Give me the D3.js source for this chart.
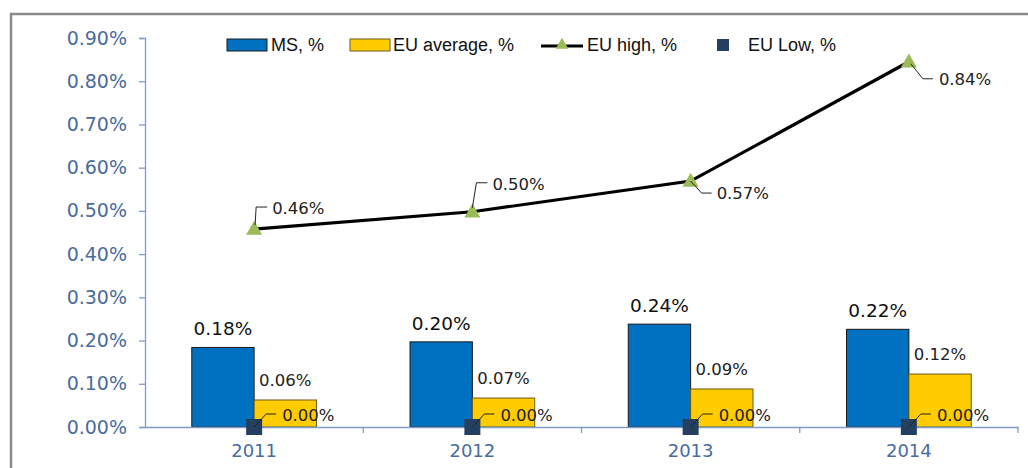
<!DOCTYPE html>
<html><head><meta charset="utf-8">
<script src="https://cdn.jsdelivr.net/npm/d3@7"></script>
<style>body{margin:0;background:#fff}svg{display:block}</style>
</head><body>
<svg id="c" width="1028" height="468"></svg>
<script>
const years = ["2011","2012","2013","2014"];
const msValues = [0.184, 0.197, 0.238, 0.226];
const euAvgValues = [0.0625, 0.067, 0.088, 0.1225];
const euHighValues = [0.458, 0.498, 0.569, 0.845];
const euLowValues = [0, 0, 0, 0];
const msLabels = ["0.18%","0.20%","0.24%","0.22%"];
const euAvgLabels = ["0.06%","0.07%","0.09%","0.12%"];
const euHighLabels = ["0.46%","0.50%","0.57%","0.84%"];
const euLowLabels = ["0.00%","0.00%","0.00%","0.00%"];
const yTicks = [0,0.1,0.2,0.3,0.4,0.5,0.6,0.7,0.8,0.9];
const legendNames = ["MS, %","EU average, %","EU high, %","EU Low, %"];

// leader placement (styling)
const highLeaders = [
  {p:[[1,-4],[2,-22],[13,-22]], t:[18,-21]},
  {p:[[0,-4],[4,-29],[15,-29]], t:[20,-28]},
  {p:[[0,0],[11,12],[21,12]], t:[26,12]},
  {p:[[2,2],[14,17],[24,17]], t:[30,17]}
];
const lowLeader = {p:[[0,0],[12,-13],[22,-13]], t:[28,-12]};

const svg = d3.select("#c");
const axisColor = "#7f9cc8";
const labelColor = "#4a6b9d";

// outer frame
svg.append("rect").attr("x",11).attr("y",14).attr("width",1040).attr("height",480)
  .attr("fill","none").attr("stroke","#8a8a8a").attr("stroke-width",2.5);

const x = d3.scaleBand().domain(years).range([145,1018]).padding(0);
const y = d3.scaleLinear().domain([0,0.9]).range([427,38]);
const bw = x.bandwidth()/3.5;
const cx = d => x(d) + x.bandwidth()/2;

// y axis
const yAxis = svg.append("g").attr("transform","translate(145,0)")
  .call(d3.axisLeft(y).tickValues(yTicks).tickSize(6).tickPadding(12).tickFormat(d => d.toFixed(2)+"%"));
yAxis.select(".domain").attr("stroke",axisColor).attr("stroke-width",1.3);
yAxis.selectAll(".tick line").attr("stroke",axisColor).attr("stroke-width",1.3);
yAxis.selectAll(".tick text").attr("fill",labelColor).attr("font-family","DejaVu Sans").attr("font-size",19);

// bars
svg.selectAll(".ms").data(years).join("rect")
  .attr("x", d => cx(d) - bw).attr("width", bw)
  .attr("y", (d,i) => y(msValues[i])).attr("height",(d,i) => y(0)-y(msValues[i]))
  .attr("fill","#0070c0").attr("stroke","#1a1a1a").attr("stroke-width",1);
svg.selectAll(".avg").data(years).join("rect")
  .attr("x", d => cx(d)).attr("width", bw)
  .attr("y", (d,i) => y(euAvgValues[i])).attr("height",(d,i) => y(0)-y(euAvgValues[i]))
  .attr("fill","#ffcc00").attr("stroke","#6b5a20").attr("stroke-width",1);

// x axis
const xAxis = svg.append("g").attr("transform","translate(0,427)")
  .call(d3.axisBottom(x).tickSize(0).tickPadding(17));
xAxis.select(".domain").attr("stroke",axisColor).attr("stroke-width",1.3);
xAxis.selectAll(".tick text").attr("fill",labelColor).attr("font-family","DejaVu Sans").attr("font-size",18);
svg.selectAll(".xt").data(years).join("line")
  .attr("x1",d=> x(d) + x.bandwidth()).attr("x2",d=> x(d) + x.bandwidth())
  .attr("y1",427).attr("y2",433).attr("stroke",axisColor).attr("stroke-width",1.3);

// bar labels
svg.selectAll(".msl").data(years).join("text")
  .attr("x", d => cx(d) - bw/2).attr("y",(d,i)=> y(msValues[i]) - 12)
  .attr("text-anchor","middle").attr("font-family","DejaVu Sans").attr("font-size",18.5)
  .attr("fill","#111").text((d,i)=>msLabels[i]);
svg.selectAll(".avgl").data(years).join("text")
  .attr("x", d => cx(d) + bw/2).attr("y",(d,i)=> y(euAvgValues[i]) - 14)
  .attr("text-anchor","middle").attr("font-family","DejaVu Sans").attr("font-size",16.5)
  .attr("fill","#222").text((d,i)=>euAvgLabels[i]);

// EU high line
const line = d3.line().x((d,i)=>cx(years[i])).y(d=>y(d));
svg.append("path").datum(euHighValues).attr("d",line)
  .attr("fill","none").attr("stroke","#000").attr("stroke-width",3.2);

const tri = d3.symbol().type(d3.symbolTriangle).size(112);
svg.selectAll(".hm").data(euHighValues).join("path")
  .attr("d",tri).attr("transform",(d,i)=>`translate(${cx(years[i])},${y(d)+1})`)
  .attr("fill","#9bbb59");

// high leaders and labels
const leaderLine = d3.line();
euHighValues.forEach((v,i)=>{
  const px = cx(years[i]), py = y(v), L = highLeaders[i];
  svg.append("path").attr("d", leaderLine(L.p.map(p=>[px+p[0],py+p[1]])))
    .attr("fill","none").attr("stroke","#222").attr("stroke-width",1);
  svg.append("text").attr("x",px+L.t[0]).attr("y",py+L.t[1]).attr("dy","0.35em")
    .attr("font-family","DejaVu Sans").attr("font-size",16.5).attr("fill","#222").text(euHighLabels[i]);
});

// EU low markers
svg.selectAll(".lm").data(euLowValues).join("path")
  .attr("d", d3.symbol().type(d3.symbolSquare).size(256))
  .attr("transform",(d,i)=>`translate(${cx(years[i])},${y(d)})`)
  .attr("fill","#243f60");
euLowValues.forEach((v,i)=>{
  const px = cx(years[i]), py = y(v), L = lowLeader;
  svg.append("path").attr("d", leaderLine(L.p.map(p=>[px+p[0],py+p[1]])))
    .attr("fill","none").attr("stroke","#222").attr("stroke-width",1);
  svg.append("text").attr("x",px+L.t[0]).attr("y",py+L.t[1]).attr("dy","0.35em")
    .attr("font-family","DejaVu Sans").attr("font-size",16.5).attr("fill","#222").text(euLowLabels[i]);
});

// legend
const lg = svg.append("g").attr("font-family","Liberation Sans").attr("font-size",18).attr("fill","#111");
const ly = 45;
lg.append("rect").attr("x",227).attr("y",ly-6).attr("width",40).attr("height",12).attr("fill","#0070c0").attr("stroke","#1a1a1a");
lg.append("text").attr("x",271).attr("y",ly).attr("dy","0.35em").text(legendNames[0]);
lg.append("rect").attr("x",350).attr("y",ly-6).attr("width",40).attr("height",12).attr("fill","#ffcc00").attr("stroke","#6b5a20");
lg.append("text").attr("x",393).attr("y",ly).attr("dy","0.35em").text(legendNames[1]);
lg.append("line").attr("x1",541).attr("x2",583).attr("y1",ly+1).attr("y2",ly+1).attr("stroke","#000").attr("stroke-width",3);
lg.append("path").attr("d",d3.symbol().type(d3.symbolTriangle).size(70)).attr("transform",`translate(562,${ly})`).attr("fill","#9bbb59");
lg.append("text").attr("x",587).attr("y",ly).attr("dy","0.35em").text(legendNames[2]);
lg.append("rect").attr("x",717).attr("y",ly-6).attr("width",12).attr("height",12).attr("fill","#243f60");
lg.append("text").attr("x",748).attr("y",ly).attr("dy","0.35em").text(legendNames[3]);
</script>
</body></html>
